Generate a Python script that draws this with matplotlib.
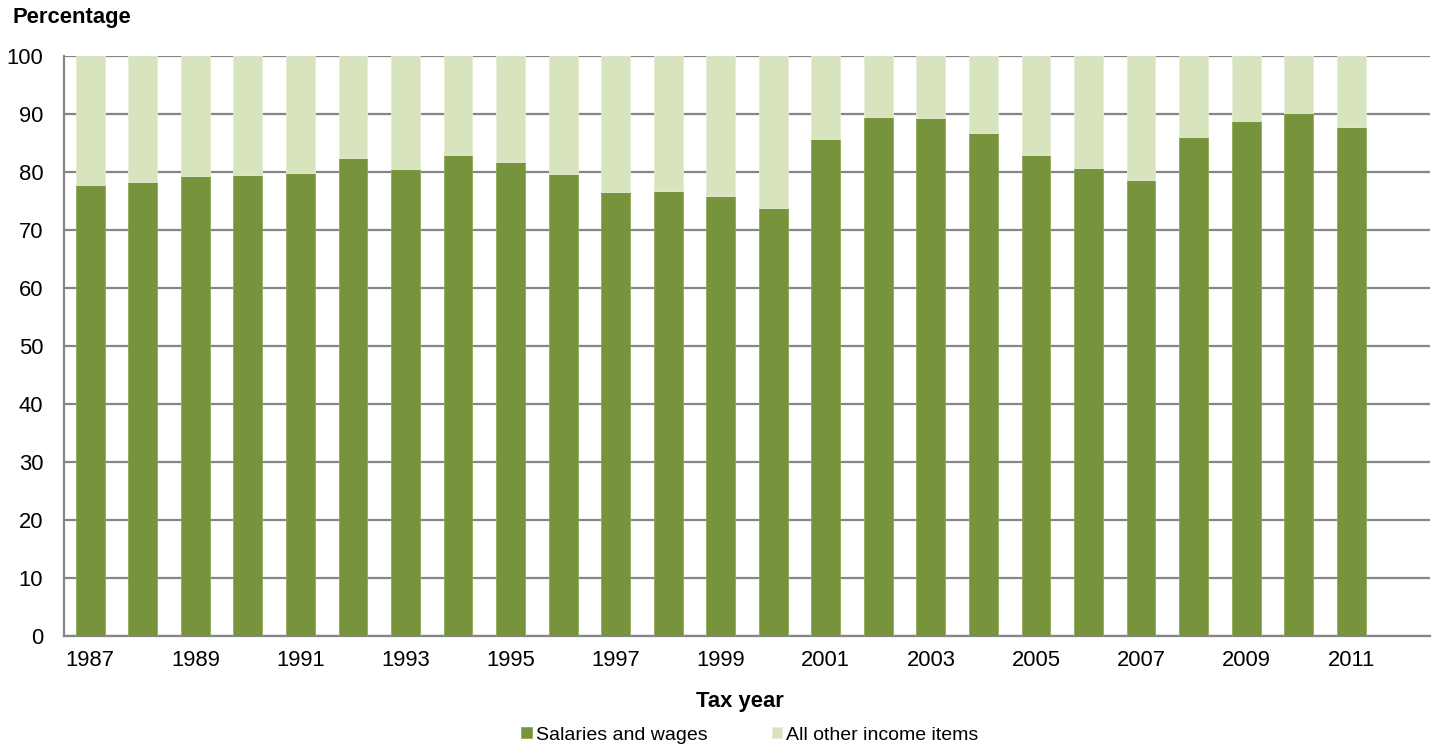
import numpy as np
import matplotlib.pyplot as plt

plt.rcParams['font.family'] = ['Liberation Sans', 'DejaVu Sans']

years = list(range(1987, 2012))
salaries = [77.8, 78.3, 79.3, 79.5, 79.8, 82.5, 80.5, 83.0, 81.7, 79.7,
            76.6, 76.7, 75.8, 73.8, 85.7, 89.5, 89.3, 86.7, 82.9, 80.7,
            78.6, 86.0, 88.8, 90.2, 87.8]
other = [100 - s for s in salaries]

dark = "#77933C"
light = "#D7E4BD"
grid = "#868686"
fs = 15.8

fig = plt.figure(figsize=(14.45, 7.47), dpi=100)
ax = fig.add_axes([64 / 1445, 1 - 636 / 747, (1430 - 64) / 1445, (636 - 56) / 747])

x = np.arange(len(years))
ax.bar(x, salaries, width=0.55, color=dark, edgecolor="#8FAA5A", linewidth=0.6,
       label="Salaries and wages", zorder=3)
ax.bar(x, other, width=0.55, bottom=salaries, color=light, edgecolor="#E6EED6",
       linewidth=0.6, label="All other income items", zorder=3)

ax.set_xlim(-0.5, len(years) + 0.5)
ax.set_ylim(0, 100)
ax.set_yticks(range(0, 101, 10))
ax.set_xticks(x[::2])
ax.set_xticklabels([str(y) for y in years[::2]])
ax.tick_params(axis='both', length=0, labelsize=fs, colors="black")
ax.tick_params(axis='y', pad=15)
ax.tick_params(axis='x', pad=10)

ax.grid(axis='y', color=grid, linewidth=1.6, zorder=0)
for s in ["top", "right"]:
    ax.spines[s].set_visible(False)
for s in ["left", "bottom"]:
    ax.spines[s].set_color(grid)
    ax.spines[s].set_linewidth(1.6)

fig.text(12 / 1445, 1 - 18 / 747, "Percentage", fontsize=fs, fontweight="bold",
         va="center", ha="left")
fig.text(740 / 1445, 1 - 707 / 747, "Tax year", fontsize=fs, fontweight="bold",
         va="baseline", ha="center")

fig.legend(loc="center", bbox_to_anchor=(750 / 1445, 1 - 735 / 747), ncol=2,
           frameon=False, fontsize=14, handlelength=0.55, handleheight=0.55,
           handletextpad=0.2, columnspacing=3.3)

plt.savefig("out.png", dpi=100)
